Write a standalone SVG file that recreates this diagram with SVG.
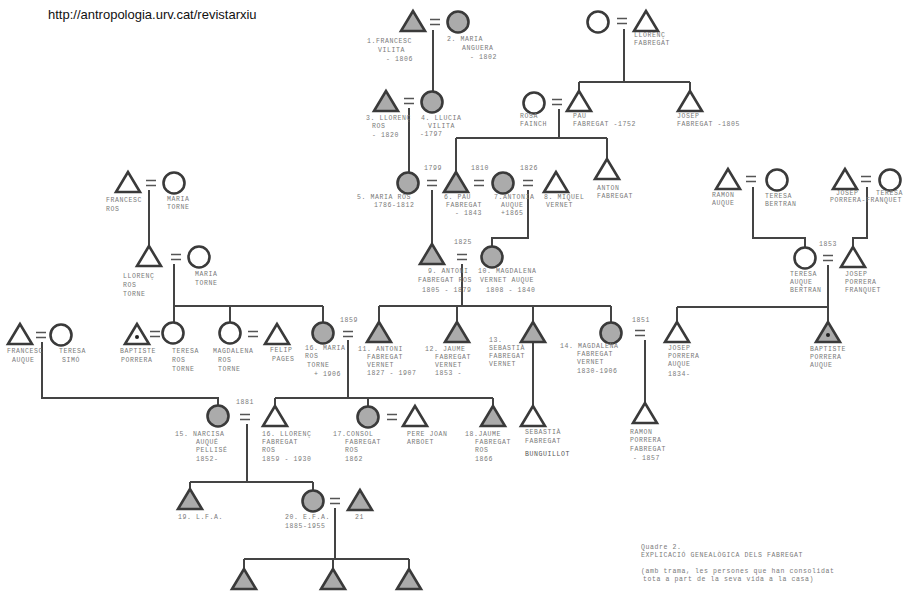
<svg xmlns="http://www.w3.org/2000/svg" xmlns:xlink="http://www.w3.org/1999/xlink" width="910" height="595" viewBox="0 0 910 595">
<style>
.bg{fill:#ffffff}
.w{fill:#ffffff;stroke:#3a3a3a;stroke-width:2.6}
.g{fill:#ababab;stroke:#3a3a3a;stroke-width:2.6}
.eq{fill:none;stroke:#555;stroke-width:1.6}
.ln{fill:none;stroke:#444;stroke-width:2}
.dot{fill:#222}
text{font-family:"Liberation Mono","DejaVu Sans Mono",monospace;font-size:6.5px;fill:#7a7a7a;letter-spacing:0.6px}
.hdr{font-family:"Liberation Sans",Arial,sans-serif;font-size:13px;fill:#111;letter-spacing:0}
</style>
<defs>
<polygon id="tri" points="0,-11 -12,9 12,9"/>
<circle id="cir" r="10.5"/>
<path id="eqs" d="M-5,-2.5H5M-5,2.5H5"/>
</defs>
<rect class="bg" width="910" height="595"/>
<text class="hdr" x="48" y="19">http://antropologia.urv.cat/revistarxiu</text>

<g id="connectors">
<path class="ln" d="M433,30V91"/>
<path class="ln" d="M409,108V173"/>
<path class="ln" d="M624,29V82M579,82H690M579,82V92M690,82V92"/>
<path class="ln" d="M559,109V138M456,138H607M456,138V173M607,138V160"/>
<path class="ln" d="M432,190V245"/>
<path class="ln" d="M528,190V238H492V247"/>
<path class="ln" d="M462,264V306M379,306H611M379,306V323M457,306V323M533,306V323M611,306V323"/>
<path class="ln" d="M533,343V407"/>
<path class="ln" d="M149,190V247"/>
<path class="ln" d="M174,264V306H323M174,306V323M230,306V323M323,306V323"/>
<path class="ln" d="M42,342V398H218V406"/>
<path class="ln" d="M348,340V398M275,398H493M275,398V407M368,398V407M493,398V407"/>
<path class="ln" d="M247,424V482M190,482H313M190,482V490M313,482V491"/>
<path class="ln" d="M335,508V559M244,559H409M244,559V570M333,559V570M409,559V570"/>
<path class="ln" d="M645,340V404"/>
<path class="ln" d="M753,187V238H805V248"/>
<path class="ln" d="M867,187V238H853V248"/>
<path class="ln" d="M828,265V323M677,307H828M677,307V323"/>
</g>

<g id="n1"><use href="#tri" class="g" x="413" y="22"/><use href="#eqs" class="eq" x="435" y="22"/>
<text x="367" y="43">1.FRANCESC</text><text x="378" y="52">VILITA</text><text x="386" y="61">- 1806</text></g>
<g id="n2"><use href="#cir" class="g" x="458" y="22"/>
<text x="447" y="41">2. MARIA</text><text x="462" y="50">ANGUERA</text><text x="470" y="59">- 1802</text></g>
<g id="n3"><use href="#tri" class="g" x="386" y="102"/><use href="#eqs" class="eq" x="409" y="101"/>
<text x="366" y="120">3. LLORENÇ</text><text x="372" y="128">ROS</text><text x="372" y="137">- 1820</text></g>
<g id="n4"><use href="#cir" class="g" x="432" y="102"/>
<text x="421" y="120">4. LLUCIA</text><text x="428" y="128">VILITA</text><text x="420" y="136">-1797</text></g>

<g id="nLF"><use href="#cir" class="w" x="598" y="22"/><use href="#eqs" class="eq" x="622" y="21"/><use href="#tri" class="w" x="646" y="22"/>
<text x="634" y="37">LLORENÇ</text><text x="634" y="45">FABREGAT</text></g>
<g id="nRosa"><use href="#cir" class="w" x="534" y="103"/><use href="#eqs" class="eq" x="557" y="102"/>
<text x="520" y="118">ROSA</text><text x="520" y="126">FAINCH</text></g>
<g id="nPau"><use href="#tri" class="w" x="579" y="102"/>
<text x="573" y="118">PAU</text><text x="573" y="126">FABREGAT -1752</text></g>
<g id="nJosepF"><use href="#tri" class="w" x="690" y="102"/>
<text x="677" y="118">JOSEP</text><text x="677" y="126">FABREGAT -1805</text></g>
<g id="nAnton"><use href="#tri" class="w" x="607" y="170"/>
<text x="597" y="190">ANTON</text><text x="597" y="198">FABREGAT</text></g>

<g id="n5"><use href="#cir" class="g" x="408" y="183"/><use href="#eqs" class="eq" x="432" y="183"/><text x="424" y="170">1799</text>
<text x="357" y="199">5. MARIA ROS</text><text x="374" y="207">1786-1812</text></g>
<g id="n6"><use href="#tri" class="g" x="456" y="183"/><use href="#eqs" class="eq" x="479" y="183"/><text x="471" y="170">1810</text>
<text x="444" y="199">6. PAU</text><text x="446" y="207">FABREGAT</text><text x="455" y="215">- 1843</text></g>
<g id="n7"><use href="#cir" class="g" x="503" y="183"/><use href="#eqs" class="eq" x="528" y="183"/><text x="520" y="170">1826</text>
<text x="494" y="199">7.ANTONIA</text><text x="501" y="207">AUQUE</text><text x="501" y="215">+1865</text></g>
<g id="n8"><use href="#tri" class="w" x="556" y="183"/>
<text x="544" y="199">8. MIQUEL</text><text x="546" y="207">VERNET</text></g>

<g id="n9"><use href="#tri" class="g" x="432" y="255"/><use href="#eqs" class="eq" x="462" y="257"/><text x="454" y="244">1825</text>
<text x="428" y="273">9. ANTONI</text><text x="418" y="282">FABREGAT ROS</text><text x="422" y="292">1805 - 1879</text></g>
<g id="n10"><use href="#cir" class="g" x="492" y="257"/>
<text x="478" y="273">10. MAGDALENA</text><text x="480" y="282">VERNET AUQUE</text><text x="486" y="292">1808 - 1840</text></g>

<g id="nFR"><use href="#tri" class="w" x="128" y="183"/><use href="#eqs" class="eq" x="151" y="183"/>
<text x="106" y="202">FRANCESC</text><text x="106" y="211">ROS</text></g>
<g id="nMT"><use href="#cir" class="w" x="174" y="183"/>
<text x="167" y="201">MARIA</text><text x="167" y="209">TORNE</text></g>
<g id="nLRT"><use href="#tri" class="w" x="149" y="257"/><use href="#eqs" class="eq" x="176" y="257"/>
<text x="123" y="278">LLORENÇ</text><text x="123" y="287">ROS</text><text x="123" y="296">TORNE</text></g>
<g id="nMT2"><use href="#cir" class="w" x="199" y="257"/>
<text x="195" y="276">MARIA</text><text x="195" y="285">TORNE</text></g>

<g id="nFA"><use href="#tri" class="w" x="20" y="335"/><use href="#eqs" class="eq" x="41" y="335"/>
<text x="7" y="353">FRANCESC</text><text x="12" y="362">AUQUE</text></g>
<g id="nTS"><use href="#cir" class="w" x="61" y="335"/>
<text x="59" y="353">TERESA</text><text x="62" y="362">SIMÓ</text></g>
<g id="nBP"><use href="#tri" class="w" x="137" y="335"/><circle class="dot" cx="137" cy="337" r="2"/><use href="#eqs" class="eq" x="155" y="334"/>
<text x="120" y="353">BAPTISTE</text><text x="121" y="362">PORRERA</text></g>
<g id="nTRT"><use href="#cir" class="w" x="173" y="333"/>
<text x="172" y="353">TERESA</text><text x="172" y="362">ROS</text><text x="172" y="371">TORNE</text></g>
<g id="nMRT"><use href="#cir" class="w" x="230" y="333"/><use href="#eqs" class="eq" x="253" y="334"/>
<text x="213" y="353">MAGDALENA</text><text x="218" y="362">ROS</text><text x="218" y="371">TORNE</text></g>
<g id="nFP"><use href="#tri" class="w" x="277" y="335"/>
<text x="270" y="352">FELIP</text><text x="272" y="361">PAGES</text></g>

<g id="n16M"><use href="#cir" class="g" x="323" y="333"/><use href="#eqs" class="eq" x="348" y="334"/><text x="340" y="322">1859</text>
<text x="305" y="350">16. MARIA</text><text x="305" y="358">ROS</text><text x="307" y="367">TORNE</text><text x="314" y="376">+ 1906</text></g>
<g id="n11"><use href="#tri" class="g" x="379" y="333"/>
<text x="358" y="351">11. ANTONI</text><text x="367" y="359">FABREGAT</text><text x="367" y="367">VERNET</text><text x="367" y="375">1827 - 1907</text></g>
<g id="n12"><use href="#tri" class="g" x="457" y="333"/>
<text x="425" y="351">12. JAUME</text><text x="435" y="359">FABREGAT</text><text x="435" y="367">VERNET</text><text x="435" y="375">1853 -</text></g>
<g id="n13"><use href="#tri" class="g" x="533" y="333"/>
<text x="489" y="342">13.</text><text x="489" y="350">SEBASTIÀ</text><text x="489" y="358">FABREGAT</text><text x="489" y="366">VERNET</text></g>
<g id="n14"><use href="#cir" class="g" x="611" y="333"/><use href="#eqs" class="eq" x="640" y="333"/><text x="632" y="322">1851</text>
<text x="560" y="348">14. MAGDALENA</text><text x="577" y="356">FABREGAT</text><text x="577" y="364">VERNET</text><text x="577" y="373">1830-1906</text></g>
<g id="nJPA"><use href="#tri" class="w" x="677" y="333"/>
<text x="668" y="350">JOSEP</text><text x="668" y="358">PORRERA</text><text x="668" y="366">AUQUE</text><text x="668" y="376">1834-</text></g>
<g id="nSFB"><use href="#tri" class="w" x="533" y="417"/>
<text x="525" y="434">SEBASTIÀ</text><text x="525" y="443">FABREGAT</text><text x="525" y="456" style="fill:#555">BUNGUILLOT</text></g>
<g id="nRPF"><use href="#tri" class="w" x="645" y="414"/>
<text x="630" y="434">RAMON</text><text x="630" y="442">PORRERA</text><text x="630" y="451">FABREGAT</text><text x="633" y="460">- 1857</text></g>

<g id="n15"><use href="#cir" class="g" x="218" y="416"/><use href="#eqs" class="eq" x="245" y="417"/><text x="236" y="404">1881</text>
<text x="175" y="436">15. NARCISA</text><text x="196" y="444">AUQUÉ</text><text x="196" y="452">PELLISÉ</text><text x="196" y="461">1852-</text></g>
<g id="n16"><use href="#tri" class="w" x="275" y="417"/>
<text x="262" y="436">16. LLORENÇ</text><text x="262" y="444">FABREGAT</text><text x="262" y="452">ROS</text><text x="262" y="461">1859 - 1930</text></g>
<g id="n17"><use href="#cir" class="g" x="368" y="417"/><use href="#eqs" class="eq" x="392" y="417"/>
<text x="333" y="436">17.CONSOL</text><text x="345" y="444">FABREGAT</text><text x="345" y="452">ROS</text><text x="345" y="461">1862</text></g>
<g id="nPJ"><use href="#tri" class="w" x="415" y="417"/>
<text x="407" y="436">PERE JOAN</text><text x="407" y="444">ARBOET</text></g>
<g id="n18"><use href="#tri" class="g" x="493" y="417"/>
<text x="465" y="436">18.JAUME</text><text x="475" y="444">FABREGAT</text><text x="475" y="452">ROS</text><text x="475" y="461">1866</text></g>

<g id="n19"><use href="#tri" class="g" x="190" y="500"/>
<text x="178" y="519">19. L.F.A.</text></g>
<g id="n20"><use href="#cir" class="g" x="313" y="501"/><use href="#eqs" class="eq" x="335" y="501"/>
<text x="285" y="519">20. E.F.A.</text><text x="285" y="528">1885-1955</text></g>
<g id="n21"><use href="#tri" class="g" x="360" y="501"/>
<text x="355" y="519">21</text></g>
<g id="n22"><use href="#tri" class="g" x="244" y="580"/></g>
<g id="n23"><use href="#tri" class="g" x="333" y="580"/></g>
<g id="n24"><use href="#tri" class="g" x="409" y="580"/></g>

<g id="nRA"><use href="#tri" class="w" x="728" y="180"/><use href="#eqs" class="eq" x="751" y="179"/>
<text x="712" y="197">RAMON</text><text x="712" y="205">AUQUE</text></g>
<g id="nTB"><use href="#cir" class="w" x="777" y="180"/>
<text x="765" y="198">TERESA</text><text x="765" y="206">BERTRAN</text></g>
<g id="nJP"><use href="#tri" class="w" x="845" y="180"/><use href="#eqs" class="eq" x="866" y="179"/>
<text x="836" y="195">JOSEP</text><text x="830" y="202">PORRERA-FRANQUET</text></g>
<g id="nTX"><use href="#cir" class="w" x="890" y="180"/>
<text x="876" y="195">TERESA</text></g>
<g id="nTAB"><use href="#cir" class="w" x="805" y="258"/><use href="#eqs" class="eq" x="828" y="258"/><text x="819" y="246">1853</text>
<text x="790" y="276">TERESA</text><text x="790" y="284">AUQUE</text><text x="790" y="292">BERTRAN</text></g>
<g id="nJPF"><use href="#tri" class="w" x="853" y="258"/>
<text x="845" y="276">JOSEP</text><text x="845" y="284">PORRERA</text><text x="845" y="292">FRANQUET</text></g>
<g id="nBPA"><use href="#tri" class="g" x="828" y="333"/><circle class="dot" cx="828" cy="335" r="2"/>
<text x="810" y="351">BAPTISTE</text><text x="810" y="359">PORRERA</text><text x="810" y="367">AUQUE</text></g>

<g id="caption">
<text x="641" y="549">Quadre 2.</text>
<text x="641" y="557">EXPLICACIÓ GENEALÒGICA DELS FABREGAT</text>
<text x="641" y="573">(amb trama, les persones que han consolidat</text>
<text x="643" y="581">tota a part de la seva vida a la casa)</text>
</g>
</svg>
